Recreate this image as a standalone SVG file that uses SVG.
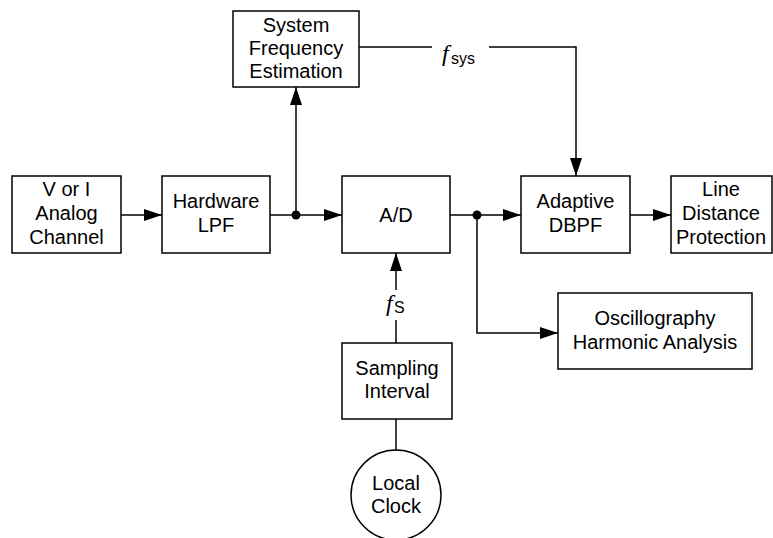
<svg xmlns="http://www.w3.org/2000/svg" width="773" height="538" viewBox="0 0 773 538">
<style>
.box{fill:#fff;stroke:#000;stroke-width:1.5}
.ln{fill:none;stroke:#000;stroke-width:1.5}
text{font-family:"Liberation Sans",Arial,sans-serif;font-size:20px;fill:#000;text-anchor:middle}
.fi{font-family:"Liberation Serif","Times New Roman",serif;font-style:italic;font-size:24px;text-anchor:start}
.sub{font-size:16px;text-anchor:start}
</style>
<defs>
<marker id="arr" viewBox="0 0 18 12" refX="18" refY="6" markerWidth="18" markerHeight="12" markerUnits="userSpaceOnUse" orient="auto">
<path d="M0,0 L18,6 L0,12 Z" fill="#000"/>
</marker>
</defs>
<g id="connectors">
<line class="ln" x1="121" y1="215" x2="162" y2="215" marker-end="url(#arr)"/>
<line class="ln" x1="270" y1="215" x2="342" y2="215" marker-end="url(#arr)"/>
<circle cx="296" cy="215" r="4.5" fill="#000"/>
<line class="ln" x1="296" y1="215" x2="296" y2="87" marker-end="url(#arr)"/>
<line class="ln" x1="450" y1="215" x2="521" y2="215" marker-end="url(#arr)"/>
<circle cx="477" cy="215" r="4.5" fill="#000"/>
<polyline class="ln" points="477,215 477,333 558,333" marker-end="url(#arr)"/>
<line class="ln" x1="630" y1="215" x2="671" y2="215" marker-end="url(#arr)"/>
<line class="ln" x1="359" y1="47" x2="432" y2="47"/>
<polyline class="ln" points="489,47 576,47 576,176" marker-end="url(#arr)"/>
<text x="442" y="61" class="fi">f</text><text x="451" y="64" class="sub">sys</text>
<line class="ln" x1="396" y1="290" x2="396" y2="253" marker-end="url(#arr)"/>
<line class="ln" x1="396" y1="320" x2="396" y2="343"/>
<text x="386" y="311" class="fi">f</text><text x="394" y="313" class="sub">S</text>
<line class="ln" x1="396" y1="419" x2="396" y2="450"/>
</g>
<g id="analog">
<rect class="box" x="12" y="176" width="109" height="77"/>
<text x="66.5" y="196">V or I</text><text x="66.5" y="220">Analog</text><text x="66.5" y="244">Channel</text>
</g>
<g id="hwlpf">
<rect class="box" x="162" y="176" width="108" height="77"/>
<text x="216" y="208">Hardware</text><text x="216" y="232">LPF</text>
</g>
<g id="sfe">
<rect class="box" x="233" y="11" width="126" height="76"/>
<text x="296" y="32">System</text><text x="296" y="55">Frequency</text><text x="296" y="78">Estimation</text>
</g>
<g id="ad">
<rect class="box" x="342" y="176" width="108" height="77"/>
<text x="396" y="222">A/D</text>
</g>
<g id="dbpf">
<rect class="box" x="521" y="176" width="109" height="77"/>
<text x="575.5" y="208">Adaptive</text><text x="575.5" y="232">DBPF</text>
</g>
<g id="ldp">
<rect class="box" x="671" y="176" width="101" height="77"/>
<text x="721" y="196">Line</text><text x="721" y="220">Distance</text><text x="721" y="244">Protection</text>
</g>
<g id="osc">
<rect class="box" x="558" y="293" width="194" height="76"/>
<text x="655" y="325">Oscillography</text><text x="655" y="349">Harmonic Analysis</text>
</g>
<g id="sampling">
<rect class="box" x="342" y="343" width="110" height="76"/>
<text x="397" y="375">Sampling</text><text x="397" y="398">Interval</text>
</g>
<g id="clock">
<circle class="box" cx="396" cy="495" r="45"/>
<text x="396" y="490">Local</text><text x="396" y="513">Clock</text>
</g>
</svg>
